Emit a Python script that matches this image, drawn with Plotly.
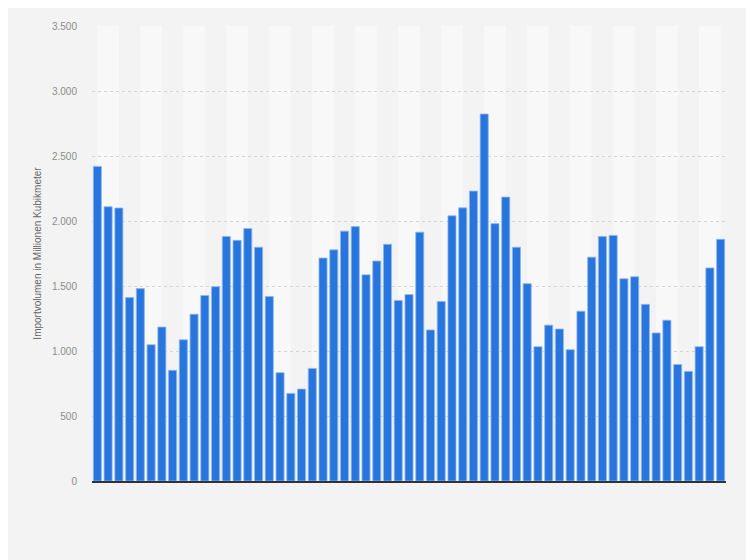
import plotly.graph_objs as go

# Importvolumen je Periode (Mio. m³)
periods = list(range(59))
volumes = [2420, 2110, 2100, 1412, 1480, 1048, 1184, 851, 1086, 1283,
           1427, 1495, 1881, 1851, 1942, 1798, 1419, 833, 674, 707,
           866, 1715, 1778, 1922, 1957, 1586, 1692, 1821, 1389, 1434,
           1914, 1162, 1381, 2040, 2101, 2230, 2823, 1980, 2184, 1798,
           1518, 1033, 1199, 1169, 1010, 1306, 1722, 1881, 1889, 1556,
           1571, 1359, 1139, 1237, 896, 843, 1033, 1639, 1859]
y_ticks = [0, 500, 1000, 1500, 2000, 2500, 3000, 3500]

fig = go.Figure(data=[go.Bar(x=periods, y=volumes,
                             marker=dict(color='#2876dd',
                                         line=dict(color='#8db8f0', width=0.8)))])

# light background stripes, two periods each
stripes = []
for k in range(0, len(periods) - 1, 4):
    stripes.append(dict(type='rect', xref='x', yref='paper',
                        x0=periods[k], x1=periods[k + 2], y0=0, y1=1,
                        fillcolor='#f8f8f8', line=dict(width=0), layer='below'))

# page body adds 8px around the figure, so margins are shifted by that
fig.update_layout(
    width=754, height=560,
    margin=dict(l=84, r=36, t=12, b=87),
    paper_bgcolor='#f3f3f3', plot_bgcolor='#f3f3f3',
    bargap=0.25, showlegend=False,
    separators=',.',
    shapes=stripes,
    font=dict(family='Arial, Liberation Sans, sans-serif', size=10, color='#8c8c8c'),
)
fig.update_xaxes(range=[-0.5, len(periods) - 0.5], showticklabels=False,
                 showgrid=False, showline=True, linecolor='#333333', linewidth=1.5,
                 ticks='', zeroline=False)
fig.update_yaxes(range=[0, 3500], tickvals=y_ticks, tickformat=',d',
                 showgrid=True, gridcolor='#d6d6d6', griddash='dot', gridwidth=1,
                 zeroline=False, ticks='', ticklabelstandoff=14,
                 title=dict(text='Importvolumen in Millionen Kubikmeter',
                            font=dict(size=10, color='#666666'), standoff=8))

fig.write_html("out.html")
